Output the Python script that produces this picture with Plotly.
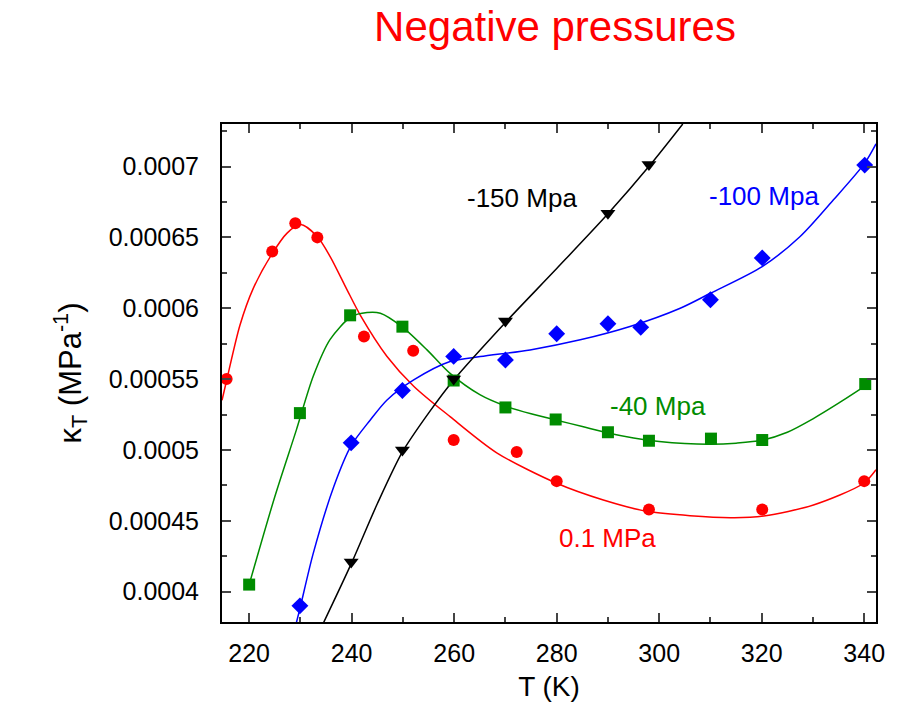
import plotly.graph_objects as go

# ---- measured data points ----
T_red = [215.6, 224.5, 229.0, 233.3, 242.4, 252.0, 259.9, 272.2, 280.0, 298.0, 320.1, 340.0]
k_red = [0.000550, 0.000640, 0.000660, 0.000650, 0.000580, 0.000570, 0.000507, 0.0004985, 0.000478, 0.000458, 0.000458, 0.000478]

T_green = [220.0, 229.9, 239.7, 249.9, 259.9, 270.0, 279.8, 290.0, 298.0, 310.1, 320.1, 340.2]
k_green = [0.000405, 0.000526, 0.000595, 0.000587, 0.000549, 0.000530, 0.0005215, 0.0005125, 0.0005065, 0.000508, 0.000507, 0.0005465]

T_blue = [229.9, 239.9, 249.9, 259.9, 270.0, 280.0, 290.0, 296.4, 310.0, 320.1, 340.1]
k_blue = [0.000390, 0.000505, 0.000542, 0.000566, 0.0005635, 0.000582, 0.000589, 0.0005865, 0.000606, 0.0006355, 0.000701]

T_black = [239.9, 249.9, 259.9, 270.0, 290.0, 298.0]
k_black = [0.000421, 0.0005, 0.000550, 0.000591, 0.000667, 0.0007015]

# ---- fitted curves ----
cT_red = [214.7, 215.6, 218.2, 220.8, 224.4, 227.4, 230.0, 233.2, 235.8, 239.1, 241.7, 246.9, 252.1, 259.2,
          268.3, 280.0, 289.1, 297.9, 313.9, 320.4, 330.1, 339.9, 342.3]
ck_red = [0.000535, 0.000549, 0.000588, 0.000614, 0.000638, 0.000653, 0.000659, 0.000651, 0.0006365, 0.000613,
          0.000595, 0.000566, 0.000545, 0.0005235, 0.000498, 0.0004765, 0.0004647, 0.0004565, 0.0004522,
          0.0004534, 0.0004612, 0.0004765, 0.000486]

cT_green = [220.0, 225.0, 229.2, 232.5, 235.8, 239.9, 243.0, 245.6, 249.8, 254.7, 259.2, 265.0, 270.0, 275.0,
            280.0, 285.0, 290.0, 295.0, 300.0, 305.0, 310.0, 315.0, 320.0, 325.0, 330.0, 335.0, 340.2]
ck_green = [0.000405, 0.000467, 0.000514, 0.000552, 0.000578, 0.000594, 0.000597, 0.0005965, 0.000587, 0.0005706,
            0.000554, 0.000539, 0.000531, 0.0005255, 0.000521, 0.0005165, 0.000512, 0.0005085, 0.000506,
            0.0005045, 0.000504, 0.0005048, 0.0005068, 0.0005125, 0.000522, 0.000533, 0.0005452]

cT_blue = [229.2, 229.9, 232.5, 236.5, 239.9, 243.6, 246.9, 252.1, 259.2, 265.1, 274.8, 284.6, 294.3, 304.1,
           310.0, 320.1, 327.5, 334.0, 340.1, 342.3]
ck_blue = [0.000378, 0.000388, 0.000427, 0.000474, 0.000503, 0.000521, 0.0005353, 0.0005494, 0.0005624,
           0.0005659, 0.0005706, 0.0005777, 0.0005871, 0.000600, 0.0006106, 0.0006294, 0.0006506, 0.0006765,
           0.0007024, 0.000716]

cT_black = [234.5, 239.9, 245.0, 249.9, 255.0, 259.9, 270.0, 280.0, 290.0, 298.1, 304.6]
ck_black = [0.000378, 0.0004196, 0.000462, 0.0004986, 0.000526, 0.0005494, 0.000590, 0.000628, 0.0006666,
            0.0007005, 0.000730]

x_ticks = [220, 240, 260, 280, 300, 320, 340]
y_ticks = [0.0004, 0.00045, 0.0005, 0.00055, 0.0006, 0.00065, 0.0007]
y_ticktext = ["0.0004", "0.00045", "0.0005", "0.00055", "0.0006", "0.00065", "0.0007"]

labels = ["-150 Mpa", "-100 Mpa", "-40 Mpa", "0.1 MPa"]
label_T = [273.3, 320.5, 299.8, 290.0]
label_k = [0.000678, 0.000679, 0.000531, 0.000438]

RED = "#ff0000"
GREEN = "#008c00"
BLUE = "#0000ff"
BLACK = "#000000"
FONT = "Liberation Sans, Arial, Helvetica, sans-serif"

fig = go.Figure()
for cT, ck, col in [(cT_red, ck_red, RED), (cT_green, ck_green, GREEN),
                    (cT_blue, ck_blue, BLUE), (cT_black, ck_black, BLACK)]:
    fig.add_trace(go.Scatter(x=cT, y=ck, mode="lines", line=dict(color=col, width=1.5, shape="spline", smoothing=0.8),
                             hoverinfo="skip", showlegend=False))

fig.add_trace(go.Scatter(x=T_red, y=k_red, mode="markers", marker=dict(symbol="circle", size=12, color=RED), showlegend=False))
fig.add_trace(go.Scatter(x=T_green, y=k_green, mode="markers", marker=dict(symbol="square", size=12, color=GREEN), showlegend=False))
fig.add_trace(go.Scatter(x=T_blue, y=k_blue, mode="markers", marker=dict(symbol="diamond", size=13, color=BLUE), showlegend=False))
fig.add_trace(go.Scatter(x=T_black, y=k_black, mode="markers", marker=dict(symbol="triangle-down", size=13, color=BLACK), showlegend=False))

for txt, t, k, col in zip(labels, label_T, label_k, [BLACK, BLUE, GREEN, RED]):
    fig.add_annotation(x=t, y=k, text=txt, showarrow=False, xanchor="center", yanchor="middle",
                       font=dict(family=FONT, size=26, color=col))

fig.update_layout(
    width=907, height=709,
    margin=dict(l=222, r=31, t=124, b=87),
    paper_bgcolor="white", plot_bgcolor="white",
    font=dict(family=FONT, size=25, color="black"),
    title=dict(text="Negative pressures", font=dict(family=FONT, size=42, color=RED),
               x=555 / 907, xanchor="center", xref="container", y=1 - 26 / 709, yanchor="middle", yref="container"),
)
fig.update_xaxes(range=[214.7, 342.3], tickvals=x_ticks, ticks="inside", ticklen=9, tickwidth=2,
                 showline=True, linewidth=2, linecolor="black", mirror="ticks", showgrid=False, zeroline=False,
                 minor=dict(ticks="inside", dtick=10, ticklen=5, tickwidth=2, tick0=220),
                 ticklabelstandoff=8, tickfont=dict(size=25),
                 title=dict(text="T (K)", font=dict(size=28), standoff=10))
fig.update_yaxes(range=[0.0003786, 0.000730], tickvals=y_ticks, ticktext=y_ticktext, ticks="inside", ticklen=9,
                 tickwidth=2, showline=True, linewidth=2, linecolor="black", mirror="ticks", showgrid=False,
                 zeroline=False, minor=dict(ticks="inside", dtick=0.000025, tick0=0.0004, ticklen=5, tickwidth=2),
                 ticklabelstandoff=16, tickfont=dict(size=25),
                 title=dict(text="κ<sub>T</sub> (MPa<sup>-1</sup>)", font=dict(size=31), standoff=18))

fig.write_html("out.html")
